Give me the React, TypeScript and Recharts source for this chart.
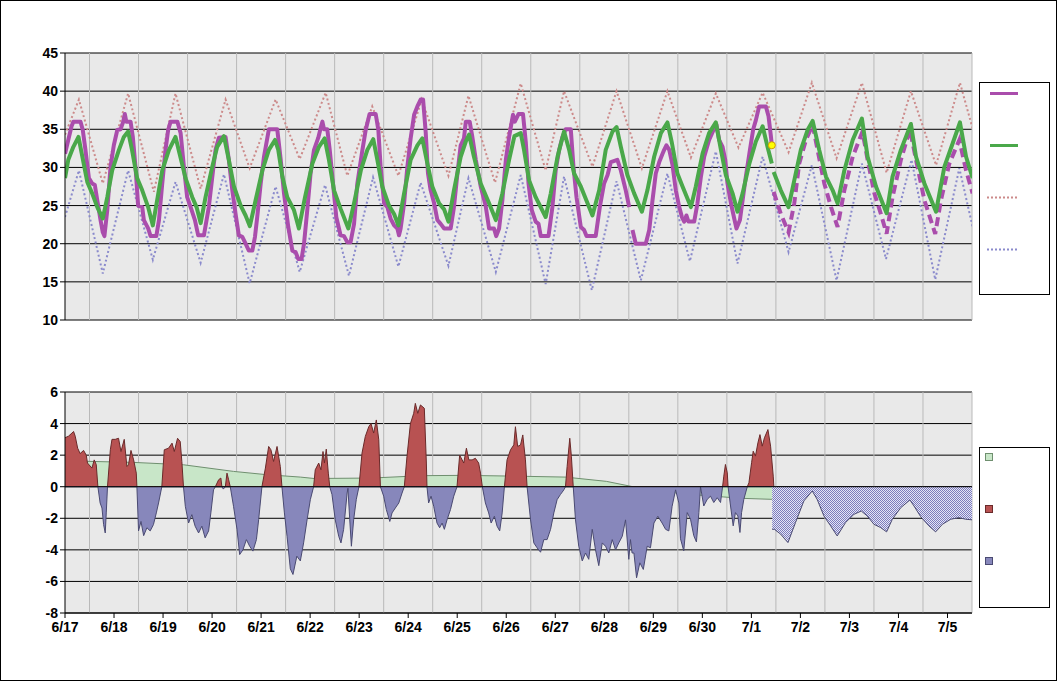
import React from 'react';
import { ComposedChart, Line, Area, XAxis, YAxis, CartesianGrid, ReferenceLine, ReferenceDot } from 'recharts';

type P = [number, number | null];

// hours since 6/17 00:00
const dayTicks = [0, 24, 48, 72, 96, 120, 144, 168, 192, 216, 240, 264, 288, 312, 336, 360, 384, 408, 432];
const dayLabels = ['6/17', '6/18', '6/19', '6/20', '6/21', '6/22', '6/23', '6/24', '6/25', '6/26', '6/27', '6/28', '6/29', '6/30', '7/1', '7/2', '7/3', '7/4', '7/5'];
const halfDays = [12, 36, 60, 84, 108, 132, 156, 180, 204, 228, 252, 276, 300, 324, 348, 372, 396, 420, 444];
const tempTicks = [10, 15, 20, 25, 30, 35, 40, 45];
const anomTicks = [-8, -6, -4, -2, 0, 2, 4, 6];

// observed temperature
const observed: P[] = [
  [0, 31.8], [1.6, 33.6], [3.2, 35.4], [4.1, 36], [7.6, 36], [8.7, 34.9], [10, 32.3], [11.7, 28.6], [13.3, 27.9], [14.6, 27.7], [15.8, 25.7], [17.4, 23.1], [18.5, 21.5], [19.3, 21], [20.7, 24.4], [22.3, 30.1], [23.9, 32.9],
  [25.6, 34.9], [27.2, 35], [28.5, 36], [29.3, 37], [30, 36], [32.1, 36], [33.2, 34], [34.5, 30.1], [35.8, 25], [37.8, 24.8], [38.6, 23.1], [40.7, 22], [41.9, 21], [44.7, 21], [46, 23.1], [47.6, 27.9],
  [49.2, 32.3], [50.5, 34.9], [51.7, 36], [55, 36], [56.6, 34.5], [58.2, 30.1], [59.8, 26.1], [61.5, 24.8], [63.6, 23.1], [65.2, 21.1], [68, 21.1], [70.4, 24.8], [72.9, 30.6],
  [73.7, 32.3], [75.3, 33.9], [78.6, 34], [80.2, 31], [81.9, 27], [83.5, 23.9], [85.1, 21.1], [86.8, 20.9], [88.4, 20], [90, 19.1], [91.7, 19.1], [93, 20.9], [94.1, 23.5], [95.8, 27.9],
  [97.4, 31.4], [99.8, 35], [103.9, 35], [105.6, 31], [107.2, 26.6], [109.3, 22.2], [111.3, 19.1], [112.9, 18.9], [114.2, 18], [115.8, 18], [117, 20], [118.6, 24.4], [120.2, 29.2],
  [121.9, 32.3], [124, 33.9], [125.1, 35.1], [126, 36], [126.8, 35], [128.4, 35], [129.6, 32.3], [131.2, 27.9], [132.8, 23.5], [134.9, 21.1], [136.6, 21], [138.2, 20.2], [139.8, 20.2], [141.5, 22.6], [143.1, 27.9],
  [145.6, 32.3], [147.2, 34.9], [149.1, 37], [152.1, 37], [153.4, 34.9], [154.5, 30.1], [156.2, 25.3], [157.8, 24.8], [159.4, 23.3], [161.1, 22.4], [162.7, 22], [163.5, 21.1], [164.3, 22], [166, 25.3], [167.6, 30.1],
  [169.2, 33.8], [170.9, 36.9], [172.5, 38], [174.1, 38.9], [175.3, 38.9], [176.6, 34.5], [177.7, 29.2], [179, 27], [180.7, 25.3], [182.3, 23.1], [183.9, 22.6], [185.6, 22], [188.8, 22], [190.4, 24.8],
  [192.1, 29.2], [193.7, 32.9], [195.3, 33.8], [196.2, 36], [198.1, 36], [199.4, 34], [201.1, 31], [203.5, 27.5], [205.9, 25], [207.6, 22], [210, 22], [211.1, 21], [212.5, 22], [214.1, 25.7],
  [215.8, 31], [217.4, 34], [219.3, 36.9], [220.2, 36], [222, 37], [224.2, 37], [225.6, 33.2], [226.9, 27.9], [228.5, 24.4], [230.4, 22.9], [231.8, 22.6], [232.9, 21], [236.7, 21], [238.6, 24.8],
  [240.2, 29.6], [241.9, 32.3], [243.5, 34], [245.1, 35], [247.6, 35], [248.9, 30.1], [250.4, 26.1], [252.5, 22.2], [254.1, 21.8], [255.3, 21], [259.8, 21], [261.8, 24.8],
  [263.9, 27.9], [265.6, 29], [267.2, 30.7], [270.4, 31], [272.1, 29.6], [274.5, 27], [276.2, 24.8], [277, null], [277.8, 21.8], [279.4, 20], [284.3, 20], [286, 21.8],
  [287.6, 25.7], [289.2, 29.2], [290.9, 30.7], [292.5, 31.8], [293.3, 32.3], [294.4, 32.9], [295.8, 32.3], [297.4, 30.3], [299, 27], [300.7, 24.8], [302, 23.5], [303.1, 22.9], [304.2, 23.7], [305.2, 22.9], [308, 22.9],
  [309.6, 25.3], [311.3, 28.8], [312.9, 31.4], [315.3, 33.6], [317.8, 35.1], [318.9, 35.6], [320.2, 33.6], [321.9, 32.7], [323.2, 31], [324.3, 27.9], [326, 25.3], [327.6, 23.3], [328.7, 22], [330.4, 23.1],
  [331.7, 25.7], [333.3, 28.8], [335.3, 32.3], [336.9, 35], [338.2, 36.2], [339.8, 38], [343.1, 38], [344.4, 36.7], [345.6, 34], [346, 32.9],
];

// forecast temperature
const forecast: P[] = [
  [346.9, 26.8], [350.4, 23.9], [354.2, 21.5], [357, 25.3], [359.4, 30.5], [362.7, 33.6], [366, 35.6], [368.4, 32.3], [371.7, 27.9], [375, 24.8], [378.2, 22.2], [381.5, 27], [385.6, 31.4],
  [390.4, 34.7], [392.9, 31], [396.2, 26.6], [399.4, 23.9], [402.2, 21.3], [405.1, 26.1], [409.2, 31], [413.6, 35], [416.6, 31], [420.7, 25.7], [426, 21.3], [428.8, 25.7], [432.9, 30.5],
  [437.8, 33.6], [441.1, 29.6], [444.3, 26.6],
];

// normal temperature
const normal: P[] = [
  [0, 28.6], [1.6, 31], [4.1, 32.7], [6.6, 34], [8.2, 31.8], [10.9, 28.1], [13.3, 26.6], [15.8, 24.8], [18.5, 23.3], [20.7, 26.1], [23.1, 29.6], [26.4, 32.3], [28.8, 34], [30.9, 34.7], [32.8, 32.3],
  [35.3, 28.6], [37.8, 27], [40.7, 24.8], [43, 22.4], [45.1, 25.7], [47.6, 29.6], [50.9, 32.3], [54.1, 34], [56.1, 31.8], [59, 28.6], [62.3, 26.1], [64.4, 24.8], [66.4, 22.7], [68.8, 26.1], [72.1, 30.1],
  [74.5, 32.7], [77.8, 34.1], [80.2, 31], [82.7, 27.5], [86, 25], [88.4, 23.7], [90.5, 22.3], [93.3, 25.7], [96.6, 29.6], [99.8, 32.3], [102.8, 33.6], [104.4, 32.3], [106.4, 28.8], [108.8, 26.1],
  [112.1, 24.4], [114.5, 22], [117.5, 26.1], [121.1, 30.5], [124.3, 32.7], [127.1, 33.8], [129.2, 31], [131.7, 27], [134.9, 24.6], [138.7, 22], [141.5, 25.3], [144.8, 29.6], [148, 32.3],
  [150.9, 33.7], [152.9, 31], [155.3, 27.5], [158.6, 25], [161.1, 23.9], [163.2, 22.4], [166, 26.6], [169.2, 31], [172.5, 32.9], [174.9, 33.8], [177.4, 30.5], [179.8, 27.5], [183.1, 25.3],
  [185.6, 24.5], [187.7, 22.9], [190.4, 27], [193.7, 31.4], [196.2, 33.4], [197.8, 34.3], [200.2, 31.4], [203.5, 27.9], [207.6, 25.3], [210.9, 23.1], [214.1, 26.6], [217.4, 31], [220, 34.1],
  [223.1, 34.5], [224.7, 32.3], [227.2, 28.3], [230.4, 26.1], [235.3, 23.5], [237.8, 26.6], [241.1, 31.4], [244.3, 34.7], [246.8, 32.3], [249.2, 29.2], [252.5, 27.5], [255.8, 25.3], [258.2, 23.7],
  [261.5, 27], [264.7, 32.3], [268, 34.7], [270, 35.3], [272.1, 32.7], [275.3, 29], [278.6, 26.6], [282.4, 24.2], [285.1, 27], [288.4, 31.4], [291.7, 34.5], [294.9, 35.9], [297.1, 33.2],
  [299.8, 29.2], [302.3, 27.5], [306.4, 24.8], [308.8, 27.5], [312.1, 31.8], [315.3, 34.5], [318.6, 35.9], [321.1, 32.3], [323.5, 29], [326.8, 26.6], [329.2, 24.2], [331.7, 26.6], [335, 30.5],
  [338.2, 33.4], [341.5, 35.4], [343.9, 32.7], [346, 30.5], [346.5, null], [346.9, 29.4], [350.4, 27], [354.2, 24.8], [357, 28.3], [360.2, 32.3], [363.5, 34.9], [366, 36.1], [369.2, 32.3],
  [372.5, 28.8], [375.8, 27], [378.2, 25.3], [381.5, 29.6], [385.6, 33.6], [390.1, 36.4], [392.9, 31.4], [397, 27.5], [402.2, 24], [405.1, 28.8], [409.2, 32.3], [414.1, 35.7], [416.6, 31.4],
  [420.7, 27.9], [426.4, 24.2], [430.5, 30.1], [434.6, 33.2], [438.1, 35.9], [441.1, 31.4], [444.3, 28.6],
];

// upper reference (dotted red)
const upperRef: P[] = [
  [0, 34.3], [6.8, 38.9], [18.5, 27.9], [30.9, 39.7], [43.5, 26.8], [54.1, 39.7], [66.4, 27.2], [78.6, 38.9], [90.4, 29.9], [103.1, 38.9], [114.9, 31.1], [127.6, 39.8], [138.2, 28.9],
  [150.4, 38], [163.2, 28.9], [174.6, 38.9], [187.7, 28.9], [197.5, 39.4], [210.5, 28], [223.1, 41], [235.3, 29.6], [244.3, 40], [258.2, 30.1], [270, 40], [282.4, 29.9], [294.9, 40],
  [306.4, 31.3], [318.6, 39.7], [329.7, 32.6], [341.5, 39.8], [354.2, 32], [365.6, 41.1], [377.7, 31.2], [390.1, 41.1], [402.2, 29.3], [414.1, 40], [426.4, 30.3], [438.1, 41.1], [444.3, 35.1],
];

// lower reference (dotted blue)
const lowerRef: P[] = [
  [0, 23.5], [6.8, 29.6], [18.5, 16.1], [30.9, 29.6], [43, 17.9], [54.1, 28.1], [66.4, 17.5], [77.8, 29.1], [90.4, 14.8], [103.1, 27.5], [114.9, 16.3], [127.3, 27.7], [139, 15.8],
  [150.8, 28.7], [163.2, 17], [174.1, 28], [187.7, 17.1], [197.5, 28.6], [210.9, 16.3], [223.1, 29], [235.3, 14.7], [244.3, 28.8], [257.9, 13.9], [270, 28.2], [281.9, 15.2], [294.9, 29.2],
  [305.9, 17.7], [318.6, 32.1], [329.2, 17.4], [341.5, 31.4], [354.2, 18.9], [365.6, 30.3], [377.7, 15.2], [390.1, 30.5], [401.9, 18], [414.4, 31], [426, 15.3], [437.8, 29.9], [444.3, 22.2],
];

const latest: P = [346, 32.9];

// observed anomaly
const anomaly: P[] = [
  [0, 3.1], [1.7, 3.2], [3.4, 3.4], [4.2, 3.5], [5, 3.2], [6.2, 2.44], [7.4, 2.1], [9.1, 2.3], [10.4, 2.0], [11, 1.5], [13.2, 1.18], [14.3, 1.7], [15.3, 1.4], [16.1, 0], [17.2, -1.03], [18.1, -1.35],
  [18.9, -2.4], [19.7, -2.93], [20.2, -1.66], [20.8, 0], [22.2, 2.34], [23, 3.0], [24.6, 3.0], [26.2, 3.07], [27.4, 2.23], [29, 3.0], [30.3, 1.28], [31.1, 1.39], [32.3, 2.3], [33.6, 1.7], [34.9, 0.86],
  [35.2, 0], [36, -2.8], [37.2, -2.2], [38.5, -3.1], [40.1, -2.6], [41.7, -2.8], [43.3, -2.4], [44.7, -1.66], [45.8, -1.03], [47.4, 0], [48.6, 2.34], [50.7, 2.44], [52.4, 2.76], [53.5, 2.23],
  [55.1, 3.07], [56.4, 2.86], [57.2, 1.6], [58, 0], [58.9, -1.24], [60.5, -2.3], [62.1, -1.77], [63.7, -2.5], [65.4, -2.93], [67, -2.5], [68.6, -3.24], [70.3, -2.8], [71.4, -1.66], [72.7, -0.2],
  [73.6, 0], [75.2, 0.44], [76.3, 0.55], [76.8, 0], [77.5, -0.15], [78.5, 0], [79.3, 0.86], [80.1, 0.44], [80.9, 0], [82.5, -1.24], [84.2, -2.7], [85.5, -4.3], [87.1, -4], [88.8, -3.35],
  [90.4, -3.77], [92, -4.08], [93.7, -3.35], [94.8, -2.08], [96.4, 0], [98.1, 1.18], [99.7, 2.55], [100.8, 2.34], [102.1, 1.6], [103.8, 2.55], [105.4, 1.28], [106.2, 0], [107.4, -1.66],
  [108.7, -3.14], [110.3, -5.2], [111.6, -5.56], [113.5, -4.4], [115.2, -4.7], [116.8, -3.56], [118.5, -2.1], [120.1, -0.82], [121.7, 0], [122.5, 1.07], [124.2, 1.5], [125.3, 1.07],
  [126.3, 2.23], [127, 1.5], [127.9, 2.38], [128.9, 0.86], [129.6, 0], [130.7, -0.5], [132.3, -2.1], [134, -3.14], [135.1, -3.56], [136.4, -2.7], [138.1, -0.4], [138.5, -0.1], [139.4, -2.1],
  [140.2, -3.77], [141.3, -2.1], [142.6, -0.8], [143.9, 0], [145.4, 2.13], [147, 3.18], [148.7, 3.8], [149.8, 4.0], [151.1, 3.4], [152.4, 4.23], [153.6, 2.97], [154.4, 0], [156, -0.6],
  [157.3, -1.45], [159, -2.2], [160.1, -1.66], [161.7, -1.35], [163.4, -1.03], [165, -0.4], [166.1, 0], [167.4, 1.9], [169.1, 4.0], [170.7, 4.65], [171.5, 5.28], [172.7, 4.65], [174, 5.18],
  [175.9, 4.97], [176.9, 1.5], [177.2, 0], [178, -1.03], [179.2, -0.6], [180.5, -1.24], [182.1, -2.3], [183.4, -2.6], [184.6, -2.3], [185.7, -2.7], [187, -2.1], [188.7, -1.45], [190.3, -0.6],
  [191.9, 0], [193.2, 2.0], [195.2, 1.5], [196.5, 2.44], [197.7, 1.7], [199.3, 1.7], [200.9, 1.8], [202.5, 1.5], [203.4, 0.86], [204.3, 0], [205.8, -1.03], [207.4, -1.66], [208.6, -2.3],
  [210.2, -1.87], [211.5, -2.5], [212.8, -2.8], [214, -1.66], [215.1, 0], [216.4, 1.7], [218.1, 2.34], [219.7, 2.65], [220.5, 3.8], [221.6, 2.55], [223, 2.65], [224.1, 3.28], [225.4, 1.7],
  [226.2, 0], [227.9, -2.1], [229.5, -3.56], [231.1, -3.87], [232.8, -4.15], [234.4, -3.35], [236, -3.35], [237.7, -2.7], [239.3, -1.66], [240.9, -0.82], [242.5, -0.5], [244.2, -0.2], [245, 0],
  [245.8, 1.28], [247.1, 3.07], [247.9, 1.9], [248.8, 0], [249.9, -2.1], [251.5, -3.77], [253.2, -4.7], [254.8, -4.2], [256.4, -4.6], [258.1, -2.7], [259.7, -4.0], [261.3, -5.0], [263, -3.56],
  [264.6, -3.77], [266.2, -4.2], [267.9, -3.35], [269.5, -4.0], [271.1, -3.56], [272.8, -3.14], [274.4, -2.1], [276, -4.6], [276.8, -3.35], [277.6, -4.2], [278.5, -4.2], [279.8, -5.77],
  [281.4, -4.82], [283.1, -5.24], [285, -3.77], [286.6, -3.87], [288.3, -2.3], [290.2, -1.87], [292.3, -2.3], [294, -2.7], [295.6, -2.8], [297.2, -1.24], [298.9, -0.2], [300.5, -1.03],
  [301.3, -3.3], [302.9, -4.06], [304.6, -1.64], [306.2, -2.06], [307.8, -3.1], [309.1, -3.5], [310.3, -1.64], [311.1, 0], [312.7, -1.22], [314.4, -0.8], [316, -0.6], [317.6, -1.0],
  [319.3, -0.7], [320.9, -1.0], [321.9, 0], [322.5, 0.67], [323.3, 1.41], [324.2, 0.88], [324.6, 0], [325.8, -1.22], [327.1, -2.48], [328.2, -1.64], [329.4, -1.85], [330.4, -2.9], [331.2, -1.64],
  [332.3, -0.8], [334, 0], [334.8, 0.25], [336.1, 1.52], [336.9, 2.25], [338, 1.94], [339.2, 2.78], [340.2, 3.3], [341.3, 2.57], [342.4, 3.1], [344.1, 3.62], [345.4, 2.57], [346.7, 0.67], [347, 0],
];

// running mean anomaly (green area)
const meanAnomaly: P[] = [
  [0, 1.64], [33.6, 1.54], [58, 1.39], [82.5, 0.97], [98.9, 0.76], [115.2, 0.61], [122, 0.52], [150, 0.55], [175, 0.7], [195, 0.72], [220, 0.67], [245, 0.61], [265, 0.34], [278, 0],
  [301.4, -0.44], [322.5, -0.65], [332.3, -0.74], [346.2, -0.8],
];

// forecast anomaly (hatched)
const forecastAnomaly: P[] = [
  [346.2, -2.7], [347.3, -2.7], [350.3, -3.0], [353.9, -3.54], [357.6, -2.27], [361.7, -0.9], [365.8, -0.27], [368.2, -0.8], [371.5, -1.85], [374.8, -2.48], [378, -3.12], [382.1, -2.27],
  [386.2, -1.75], [389.8, -1.54], [392.7, -1.85], [396, -2.38], [399.3, -2.59], [402.2, -2.86], [405, -2.06], [409.1, -1.33], [413.6, -0.84], [415.6, -1.22], [418.9, -1.9], [422.9, -2.48],
  [426.2, -2.86], [429.5, -2.38], [433.6, -2.06], [437.6, -1.96], [440.9, -2.06], [444.2, -2.1],
];

const pts = (a: P[]) => a.map(([h, v]) => ({ h, v }));
const posPts = anomaly.map(([h, v]) => ({ h, v: v === null ? null : Math.max(v, 0) }));
const negPts = anomaly.map(([h, v]) => ({ h, v: v === null ? null : Math.min(v, 0) }));

const C = {
  purple: '#aa4dac',
  green: '#4aa84a',
  red: '#cc8a8a',
  blue: '#8a8acc',
  bg: '#e9e9e9',
  vgrid: '#b9b9b9',
  areaGreen: '#c8e6c8',
  areaGreenLine: '#6f8f6f',
  areaRed: '#b85252',
  areaRedLine: '#6a2a2a',
  areaBlue: '#8787bb',
  areaBlueLine: '#4a4a72',
};

const tickStyle = { fill: '#000', fontSize: 14, fontWeight: 'bold', fontFamily: '"Liberation Sans", Arial, sans-serif' };
const W = 1058;
const dom: [number, number] = [0, 444];

export default function App() {
  return (
    <div style={{ position: 'absolute', left: 0, top: 0, width: W, height: 681, background: '#fff' }}>
      <div style={{ position: 'absolute', left: 0, top: 0, width: 1055, height: 679, border: '1px solid #000' }} />
      <div style={{ position: 'absolute', left: 0, top: 0 }}>
        <ComposedChart width={W} height={340} margin={{ top: 53, right: 86, bottom: 20, left: 5 }}>
          <CartesianGrid vertical={false} stroke="#000" fill={C.bg} fillOpacity={1} />
          <CartesianGrid horizontal={false} stroke={C.vgrid} verticalValues={halfDays} />
          <XAxis type="number" dataKey="h" domain={dom} hide allowDataOverflow />
          <YAxis type="number" domain={[10, 45]} ticks={tempTicks} width={60} tick={tickStyle} tickSize={5}
            tickLine={{ stroke: '#000' }} axisLine={{ stroke: '#000' }} allowDataOverflow interval={0} />
          <Line data={pts(upperRef)} dataKey="v" stroke={C.red} strokeWidth={2} strokeDasharray="2 2.5" dot={false} isAnimationActive={false} />
          <Line data={pts(lowerRef)} dataKey="v" stroke={C.blue} strokeWidth={2} strokeDasharray="2 2.5" dot={false} isAnimationActive={false} />
          <Line data={pts(observed)} dataKey="v" stroke={C.purple} strokeWidth={4} dot={false} strokeLinejoin="round" isAnimationActive={false} />
          <Line data={pts(forecast)} dataKey="v" stroke={C.purple} strokeWidth={4} strokeDasharray="9 5" dot={false} isAnimationActive={false} />
          <Line data={pts(normal)} dataKey="v" stroke={C.green} strokeWidth={4} dot={false} strokeLinejoin="round" isAnimationActive={false} />
          <ReferenceDot x={latest[0]} y={latest[1] as number} r={3.5} fill="#ffff00" stroke="#d0a000" strokeWidth={1} />
        </ComposedChart>
      </div>
      <div style={{ position: 'absolute', left: 0, top: 340 }}>
        <ComposedChart width={W} height={341} margin={{ top: 52, right: 86, bottom: 0, left: 5 }}>
          <defs>
            <pattern id="hatch" width="2" height="2" patternUnits="userSpaceOnUse">
              <rect width="2" height="2" fill="#e4e4f6" />
              <rect width="1" height="1" fill="#7c7cbc" />
              <rect x="1" y="1" width="1" height="1" fill="#7c7cbc" />
            </pattern>
          </defs>
          <CartesianGrid vertical={false} stroke="#000" fill={C.bg} fillOpacity={1} />
          <CartesianGrid horizontal={false} stroke={C.vgrid} verticalValues={halfDays} />
          <XAxis type="number" dataKey="h" domain={dom} ticks={dayTicks} interval={0} height={68} tickSize={5} tickMargin={4}
            tickFormatter={(h: number) => dayLabels[dayTicks.indexOf(h)] ?? ''} tick={tickStyle}
            tickLine={{ stroke: '#000' }} axisLine={{ stroke: '#000' }} allowDataOverflow />
          <YAxis type="number" domain={[-8, 6]} ticks={anomTicks} width={60} tick={tickStyle} tickSize={5}
            tickLine={{ stroke: '#000' }} axisLine={{ stroke: '#000' }} allowDataOverflow interval={0} />
          <Area data={pts(meanAnomaly)} dataKey="v" baseValue={0} type="linear" fill={C.areaGreen} fillOpacity={1} stroke={C.areaGreenLine} strokeWidth={1} isAnimationActive={false} />
          <Area data={posPts} dataKey="v" baseValue={0} type="linear" fill={C.areaRed} fillOpacity={1} stroke={C.areaRedLine} strokeWidth={1} isAnimationActive={false} />
          <Area data={negPts} dataKey="v" baseValue={0} type="linear" fill={C.areaBlue} fillOpacity={1} stroke={C.areaBlueLine} strokeWidth={1} isAnimationActive={false} />
          <Area data={pts(forecastAnomaly)} dataKey="v" baseValue={0} type="linear" fill="url(#hatch)" fillOpacity={1} stroke={C.areaBlueLine} strokeWidth={1} isAnimationActive={false} />
          <ReferenceLine y={0} stroke="#000" strokeWidth={1} />
        </ComposedChart>
      </div>
      <svg style={{ position: 'absolute', left: 979, top: 82 }} width={72} height={214}>
        <rect x={0.5} y={0.5} width={70} height={212} fill="#fff" stroke="#000" />
        <line x1={11} x2={39} y1={11.5} y2={11.5} stroke={C.purple} strokeWidth={3} />
        <line x1={11} x2={39} y1={63.5} y2={63.5} stroke={C.green} strokeWidth={3} />
        <line x1={8} x2={39} y1={115.5} y2={115.5} stroke={C.red} strokeWidth={2} strokeDasharray="2 2" />
        <line x1={8} x2={39} y1={167.5} y2={167.5} stroke={C.blue} strokeWidth={2} strokeDasharray="2 2" />
      </svg>
      <svg style={{ position: 'absolute', left: 979, top: 447 }} width={72} height={162}>
        <rect x={0.5} y={0.5} width={70} height={160} fill="#fff" stroke="#000" />
        <rect x={6.5} y={6.5} width={7} height={7} fill={C.areaGreen} stroke={C.areaGreenLine} />
        <rect x={6.5} y={58.5} width={7} height={7} fill={C.areaRed} stroke={C.areaRedLine} />
        <rect x={6.5} y={110.5} width={7} height={7} fill={C.areaBlue} stroke={C.areaBlueLine} />
      </svg>
    </div>
  );
}
